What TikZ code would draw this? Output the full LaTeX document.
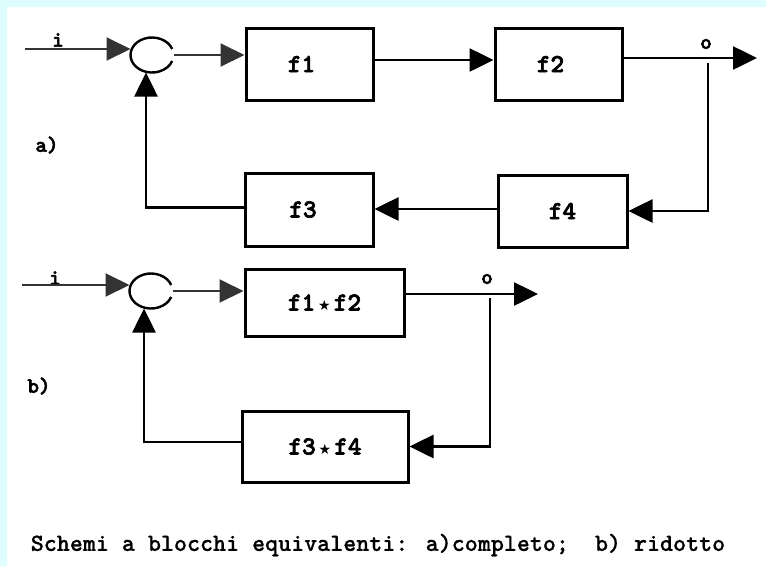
\documentclass[tikz,border=0pt]{standalone}
\usepackage{fontspec}
\usetikzlibrary{arrows.meta,shapes.geometric}
\newfontfamily\slabfont{lmmonolt10-bold}[Extension=.otf, FakeBold=2.5]
\newfontfamily\capfont{lmmonolt10-bold}[Extension=.otf, FakeBold=0.6]
\newfontfamily\symfont{DejaVu Sans}
\definecolor{framecyan}{HTML}{DDFDFF}
\newcommand{\smallstar}{\hspace{3pt}{\symfont\fontsize{14}{14}\selectfont ★}\hspace{3pt}}
\begin{document}
\begin{tikzpicture}[x=1pt,y=-1pt,
  ln/.style={line width=2.6pt},
  thinln/.style={line width=2pt, black!80},
  arr/.style={-{Triangle[length=24pt,width=23pt]}},
  blk/.style={draw, line width=3pt, rectangle, inner sep=0pt,
    font=\slabfont\fontsize{26}{26}\selectfont},
  lbl/.style={font=\slabfont\fontsize{22}{22}\selectfont, inner sep=0pt},
  sumnode/.style={ellipse, minimum width=43pt, minimum height=35pt, inner sep=0pt, outer sep=0pt},
  sumarc/.style={line width=2.4pt}
]
\fill[framecyan] (0,0) rectangle (766,566);
\fill[white] (7,7) rectangle (766,566);
\useasboundingbox (0,0) rectangle (766,566);

% ---------- a) ----------
\node[sumnode] (sA) at (152,55) {};
\draw[sumarc] (sA.center) ++(20:21.5pt and 17.5pt) arc[start angle=20, end angle=340, x radius=21.5pt, y radius=17.5pt];
\node[blk, minimum width=127pt, minimum height=72pt] (f1) at (309.5,64) {f1\hspace*{16pt}};
\node[blk, minimum width=127pt, minimum height=72pt] (f2) at (558.5,64) {f2\hspace*{16pt}};
\node[blk, minimum width=129pt, minimum height=72pt] (f4) at (562.5,211) {f4};
\node[blk, minimum width=128pt, minimum height=73pt] (f3) at (309,209.5) {f3\hspace*{12pt}};

\coordinate (iA) at (25,49);
\coordinate (oA) at (757,58);
\coordinate (bA) at (708,63);
\node[lbl] (liA) at (58,40) {i};
\node[lbl] (loA) at (706,44) {o};
\node[lbl] (la) at (47,145) {a)};

\draw[thinln,arr] (iA) -- (iA -| sA.west);
\draw[thinln,arr] (sA.east) -- (sA.east -| f1.west);
\draw[ln,arr] ([yshift=4pt]f1.east) -- ([yshift=4pt]f1.east -| f2.west);
\draw[ln,arr] ([yshift=6pt]f2.east) -- (oA);
\draw[ln,arr] (bA) |- (f4.east);
\draw[ln,arr] ([yshift=2pt]f4.west) -- ([yshift=2pt]f4.west -| f3.east);
\draw[ln,arr] ([yshift=2pt]f3.west) -| ([xshift=-6pt]sA.south);

% ---------- b) ----------
\node[sumnode] (sB) at (151,291) {};
\draw[sumarc] (sB.center) ++(20:21.5pt and 17.5pt) arc[start angle=20, end angle=340, x radius=21.5pt, y radius=17.5pt];
\node[blk, minimum width=159pt, minimum height=67pt] (f12) at (324.5,302.5) {f1\smallstar f2};
\node[blk, minimum width=166pt, minimum height=71pt] (f34) at (325,446.5) {f3\smallstar f4};

\coordinate (iB) at (22,285);
\coordinate (oB) at (538,294);
\coordinate (bB) at (490,298);
\node[lbl] (liB) at (55,278) {i};
\node[lbl] (loB) at (487,279) {o};
\node[lbl] (lb) at (39,386) {b)};

\draw[thinln,arr] (iB) -- (iB -| sB.west);
\draw[thinln,arr] (sB.east) -- (sB.east -| f12.west);
\draw[ln,arr] ([yshift=8.5pt]f12.east) -- (oB);
\draw[ln,arr] (bB) |- (f34.east);
\draw[ln,arr] ([yshift=4.5pt]f34.west) -| ([xshift=-7pt]sB.south);

% ---------- caption ----------
\node[font=\capfont\fontsize{24.8}{25}\selectfont, inner sep=0pt] (cap) at (378,545)
  {Schemi a blocchi equivalenti: a)completo;\ \ b) ridotto};
\end{tikzpicture}
\end{document}
